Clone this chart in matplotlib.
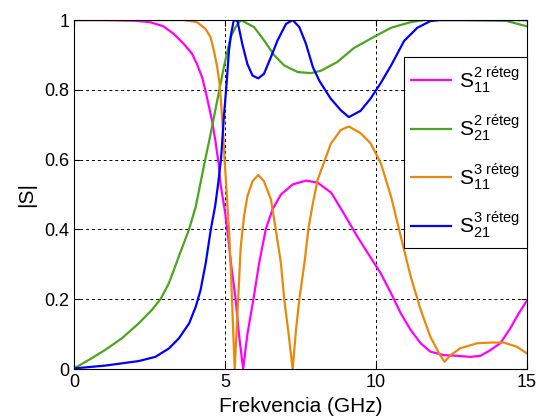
import matplotlib

matplotlib.use("Agg")
import matplotlib.pyplot as plt

# S11, 2 reteg
x_s11_2 = [0, 1, 1.5, 2.0, 2.52, 2.96, 3.29, 3.63, 3.91, 4.07, 4.24, 4.35, 4.46, 4.57, 4.68, 4.79, 4.85,
           5.0, 5.1, 5.2, 5.35, 5.46, 5.6, 5.74, 5.94, 6.13, 6.35, 6.57, 6.85, 7.24, 7.68, 8.07, 8.52, 8.94,
           9.38, 9.82, 10.16, 10.5, 10.82, 11.15, 11.48, 11.8, 12.25, 12.69, 13.13, 13.46, 13.8, 14.12,
           14.45, 14.73, 15]
y_s11_2 = [1, 1, 0.999, 0.998, 0.994, 0.982, 0.961, 0.932, 0.903, 0.874, 0.836, 0.798, 0.755, 0.712, 0.654,
           0.587, 0.53, 0.45, 0.38, 0.3, 0.2, 0.1, 0.0, 0.1, 0.2, 0.304, 0.401, 0.457, 0.5, 0.529, 0.54, 0.534,
           0.505, 0.445, 0.38, 0.32, 0.274, 0.217, 0.16, 0.112, 0.074, 0.05, 0.04, 0.038, 0.035, 0.038, 0.055,
           0.074, 0.117, 0.16, 0.196]

# S21, 2 reteg
x_s21_2 = [0, 0.58, 1.03, 1.58, 2.14, 2.58, 2.86, 3.14, 3.47, 3.81, 4.03, 4.29, 4.52, 4.74, 4.96, 5.18,
           5.35, 5.52, 5.96, 6.29, 6.63, 6.96, 7.41, 7.85, 8.18, 8.72, 9.27, 10.0, 10.5, 11.15, 11.6, 12, 13,
           14.3, 15]
y_s21_2 = [0.002, 0.031, 0.055, 0.088, 0.131, 0.17, 0.2, 0.246, 0.323, 0.401, 0.466, 0.578, 0.673, 0.769,
           0.865, 0.95, 0.98, 1.0, 0.98, 0.942, 0.899, 0.87, 0.851, 0.848, 0.855, 0.88, 0.92, 0.955, 0.978,
           0.994, 1.0, 1.0, 1.0, 0.998, 0.982]

# S11, 3 reteg
x_s11_3 = [0, 3.63, 4.07, 4.35, 4.52, 4.63, 4.74, 4.82, 4.87, 4.94, 4.98, 5.05, 5.13, 5.2, 5.26, 5.32,
           5.41, 5.52, 5.63, 5.74, 5.91, 6.1, 6.29, 6.52, 6.68, 6.85, 6.96, 7.09, 7.24, 7.35, 7.46, 7.63,
           7.76, 7.91, 8.07, 8.5, 8.83, 9.1, 9.49, 9.82, 10.16, 10.5, 10.82, 11.15, 11.48, 11.8, 12.09,
           12.27, 12.47, 12.8, 13.35, 13.8, 14.23, 14.67, 15]
y_s11_3 = [1, 1, 0.994, 0.975, 0.951, 0.913, 0.865, 0.817, 0.76, 0.673, 0.606, 0.51, 0.4, 0.27, 0.13, 0.0,
           0.16, 0.351, 0.438, 0.495, 0.538, 0.556, 0.538, 0.486, 0.4, 0.304, 0.2, 0.112, 0.0, 0.112, 0.2,
           0.304, 0.401, 0.476, 0.543, 0.645, 0.685, 0.695, 0.676, 0.647, 0.59, 0.494, 0.38, 0.265, 0.17,
           0.093, 0.045, 0.021, 0.04, 0.06, 0.074, 0.076, 0.076, 0.064, 0.045]

# S21, 3 reteg
x_s21_3 = [0, 1.03, 2.14, 2.69, 3.14, 3.47, 3.81, 4.03, 4.19, 4.36, 4.53, 4.67, 4.77, 4.87, 4.96, 5.05,
           5.13, 5.2, 5.29, 5.41, 5.57, 5.74, 5.91, 6.1, 6.29, 6.52, 6.74, 7.02, 7.24, 7.46, 7.68, 7.91,
           8.13, 8.5, 8.83, 9.1, 9.49, 9.82, 10.16, 10.5, 10.93, 11.37, 11.8, 12.1, 13, 14, 15]
y_s21_3 = [0.002, 0.01, 0.023, 0.035, 0.059, 0.088, 0.131, 0.179, 0.227, 0.304, 0.401, 0.466, 0.53, 0.606,
           0.721, 0.817, 0.913, 0.96, 1.0, 0.998, 0.932, 0.874, 0.841, 0.833, 0.846, 0.894, 0.942, 0.989,
           1.0, 0.98, 0.932, 0.865, 0.825, 0.775, 0.742, 0.722, 0.74, 0.775, 0.82, 0.87, 0.94, 0.978, 0.997,
           1.0, 1.0, 1.0, 1.0]

labels = [r"$\mathregular{S_{11}^{2\ r\acute{e}teg}}$", r"$\mathregular{S_{21}^{2\ r\acute{e}teg}}$",
          r"$\mathregular{S_{11}^{3\ r\acute{e}teg}}$", r"$\mathregular{S_{21}^{3\ r\acute{e}teg}}$"]
colors = ["#ff00ff", "#4aa61c", "#e8890c", "#0000ff"]

plt.rcParams["font.family"] = ["Liberation Sans", "DejaVu Sans"]
plt.rcParams["mathtext.fontset"] = "custom"
plt.rcParams["mathtext.rm"] = "Liberation Sans"
plt.rcParams["mathtext.it"] = "Liberation Sans"

fig = plt.figure(figsize=(5.41, 4.18), dpi=100)
ax = fig.add_axes([0.137, 0.117, 0.837, 0.835])

series = [(x_s11_2, y_s11_2), (x_s21_2, y_s21_2), (x_s11_3, y_s11_3), (x_s21_3, y_s21_3)]
for (xs, ys), c, lab in zip(series, colors, labels):
    ax.plot(xs, ys, color=c, linewidth=1.6, label=lab)

ax.set_xlim(0, 15)
ax.set_ylim(0, 1)
ax.set_xticks([0, 5, 10, 15])
ax.set_yticks([0, 0.2, 0.4, 0.6, 0.8, 1])
ax.set_yticklabels(["0", "0.2", "0.4", "0.6", "0.8", "1"])
ax.tick_params(direction="in", top=True, right=True, labelsize=13, length=4)
ax.grid(True, color="black", linestyle=(0, (3, 3)), linewidth=0.7)
ax.set_xlabel("Frekvencia (GHz)", fontsize=15, labelpad=4)
ax.set_ylabel("|S|", fontsize=15, labelpad=6)
for sp in ax.spines.values():
    sp.set_linewidth(0.8)

leg = ax.legend(loc="upper right", bbox_to_anchor=(1.0, 0.895), fontsize=15, fancybox=False,
                framealpha=1, edgecolor="black", borderaxespad=0, handlelength=1.9,
                labelspacing=0.85, borderpad=0.35, handletextpad=0.4)
leg.get_frame().set_linewidth(0.8)

fig.savefig("out.png", dpi=100)
